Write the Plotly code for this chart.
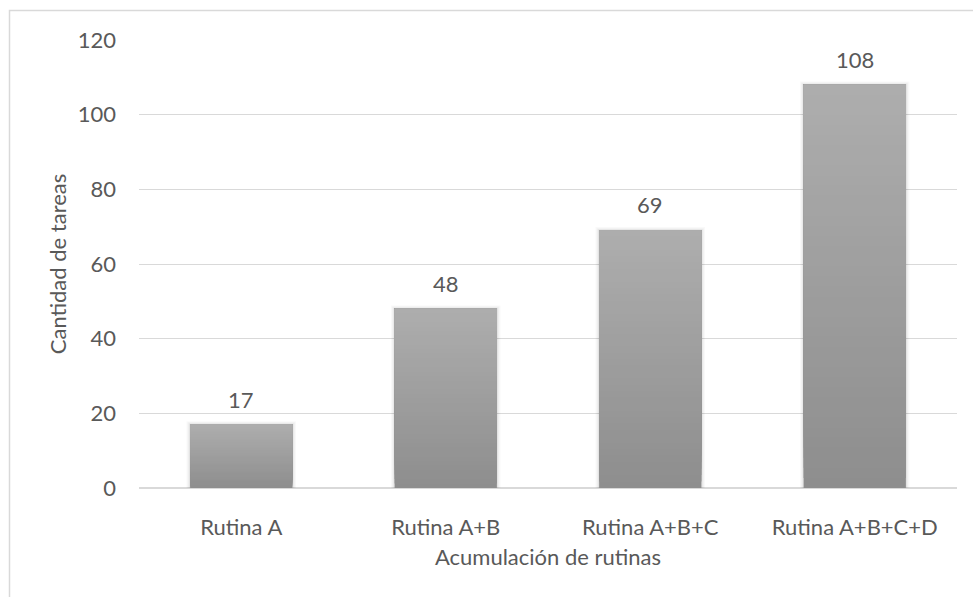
import plotly.graph_objects as go

# Data
categories = ["Rutina A", "Rutina A+B", "Rutina A+B+C", "Rutina A+B+C+D"]
values = [17, 48, 69, 108]
y_ticks = [0, 20, 40, 60, 80, 100, 120]

FONT = "Lato"
FONT_SIZE = 22
TEXT_COLOR = "#595959"
GRID_COLOR = "#d9d9d9"
BAR_WIDTH = 0.5
TOP_RGB = (174, 174, 174)
BOTTOM_RGB = (142, 142, 142)
STEPS = 40

fig = go.Figure()

# soft shadow behind each bar
for dw, dv, alpha in [(0.036, 0.9, 0.025), (0.024, 0.6, 0.035), (0.012, 0.3, 0.05)]:
    fig.add_trace(go.Bar(
        x=categories,
        base=[-dv for _ in values],
        y=[v + 2 * dv for v in values],
        width=BAR_WIDTH + dw,
        marker=dict(color=f"rgba(0,0,0,{alpha})", line=dict(width=0)),
        hoverinfo="skip",
        showlegend=False,
    ))

# vertical gradient: each layer starts a bit higher and is a bit lighter
for k in range(STEPS):
    f = k / STEPS
    rgb = tuple(round(b + (t - b) * f) for b, t in zip(BOTTOM_RGB, TOP_RGB))
    fig.add_trace(go.Bar(
        x=categories,
        base=[v * f for v in values],
        y=[v * (1 - f) for v in values],
        width=BAR_WIDTH,
        marker=dict(color="rgb(%d,%d,%d)" % rgb, line=dict(width=0)),
        hoverinfo="skip",
        showlegend=False,
    ))

# value labels above the bars
for c, v in zip(categories, values):
    fig.add_annotation(
        x=c, y=v, text=str(v), showarrow=False,
        yanchor="bottom", yshift=10,
        font=dict(family=FONT, size=FONT_SIZE, color=TEXT_COLOR),
    )

# outer chart border (only top and left edges fall inside the page)
fig.add_shape(
    type="rect", xref="paper", yref="paper",
    x0=(9.5 - 139) / 818, x1=1.2, y0=-0.5, y1=(488 - 10.5) / 448,
    line=dict(color=GRID_COLOR, width=1.5), layer="below",
)

fig.update_layout(
    width=973, height=597,
    margin=dict(l=139, r=16, t=40, b=109),
    paper_bgcolor="white", plot_bgcolor="white",
    barmode="overlay",
    font=dict(family=FONT, size=FONT_SIZE, color=TEXT_COLOR),
    showlegend=False,
    xaxis=dict(
        title=dict(text="Acumulación de rutinas", standoff=10,
                   font=dict(family=FONT, size=FONT_SIZE, color=TEXT_COLOR)),
        showgrid=False, showline=False, zeroline=False, ticks="",
        ticklabelstandoff=24,
        tickfont=dict(family=FONT, size=FONT_SIZE, color=TEXT_COLOR),
    ),
    yaxis=dict(
        title=dict(text="Cantidad de tareas", standoff=5,
                   font=dict(family=FONT, size=FONT_SIZE, color=TEXT_COLOR)),
        range=[0, 120], tickvals=y_ticks,
        showgrid=True, gridcolor=GRID_COLOR, gridwidth=1.3,
        zeroline=True, zerolinecolor=GRID_COLOR, zerolinewidth=1.5,
        showline=False, ticks="", ticklabelstandoff=22,
        tickfont=dict(family=FONT, size=FONT_SIZE, color=TEXT_COLOR),
    ),
)

fig.write_html("out.html")
